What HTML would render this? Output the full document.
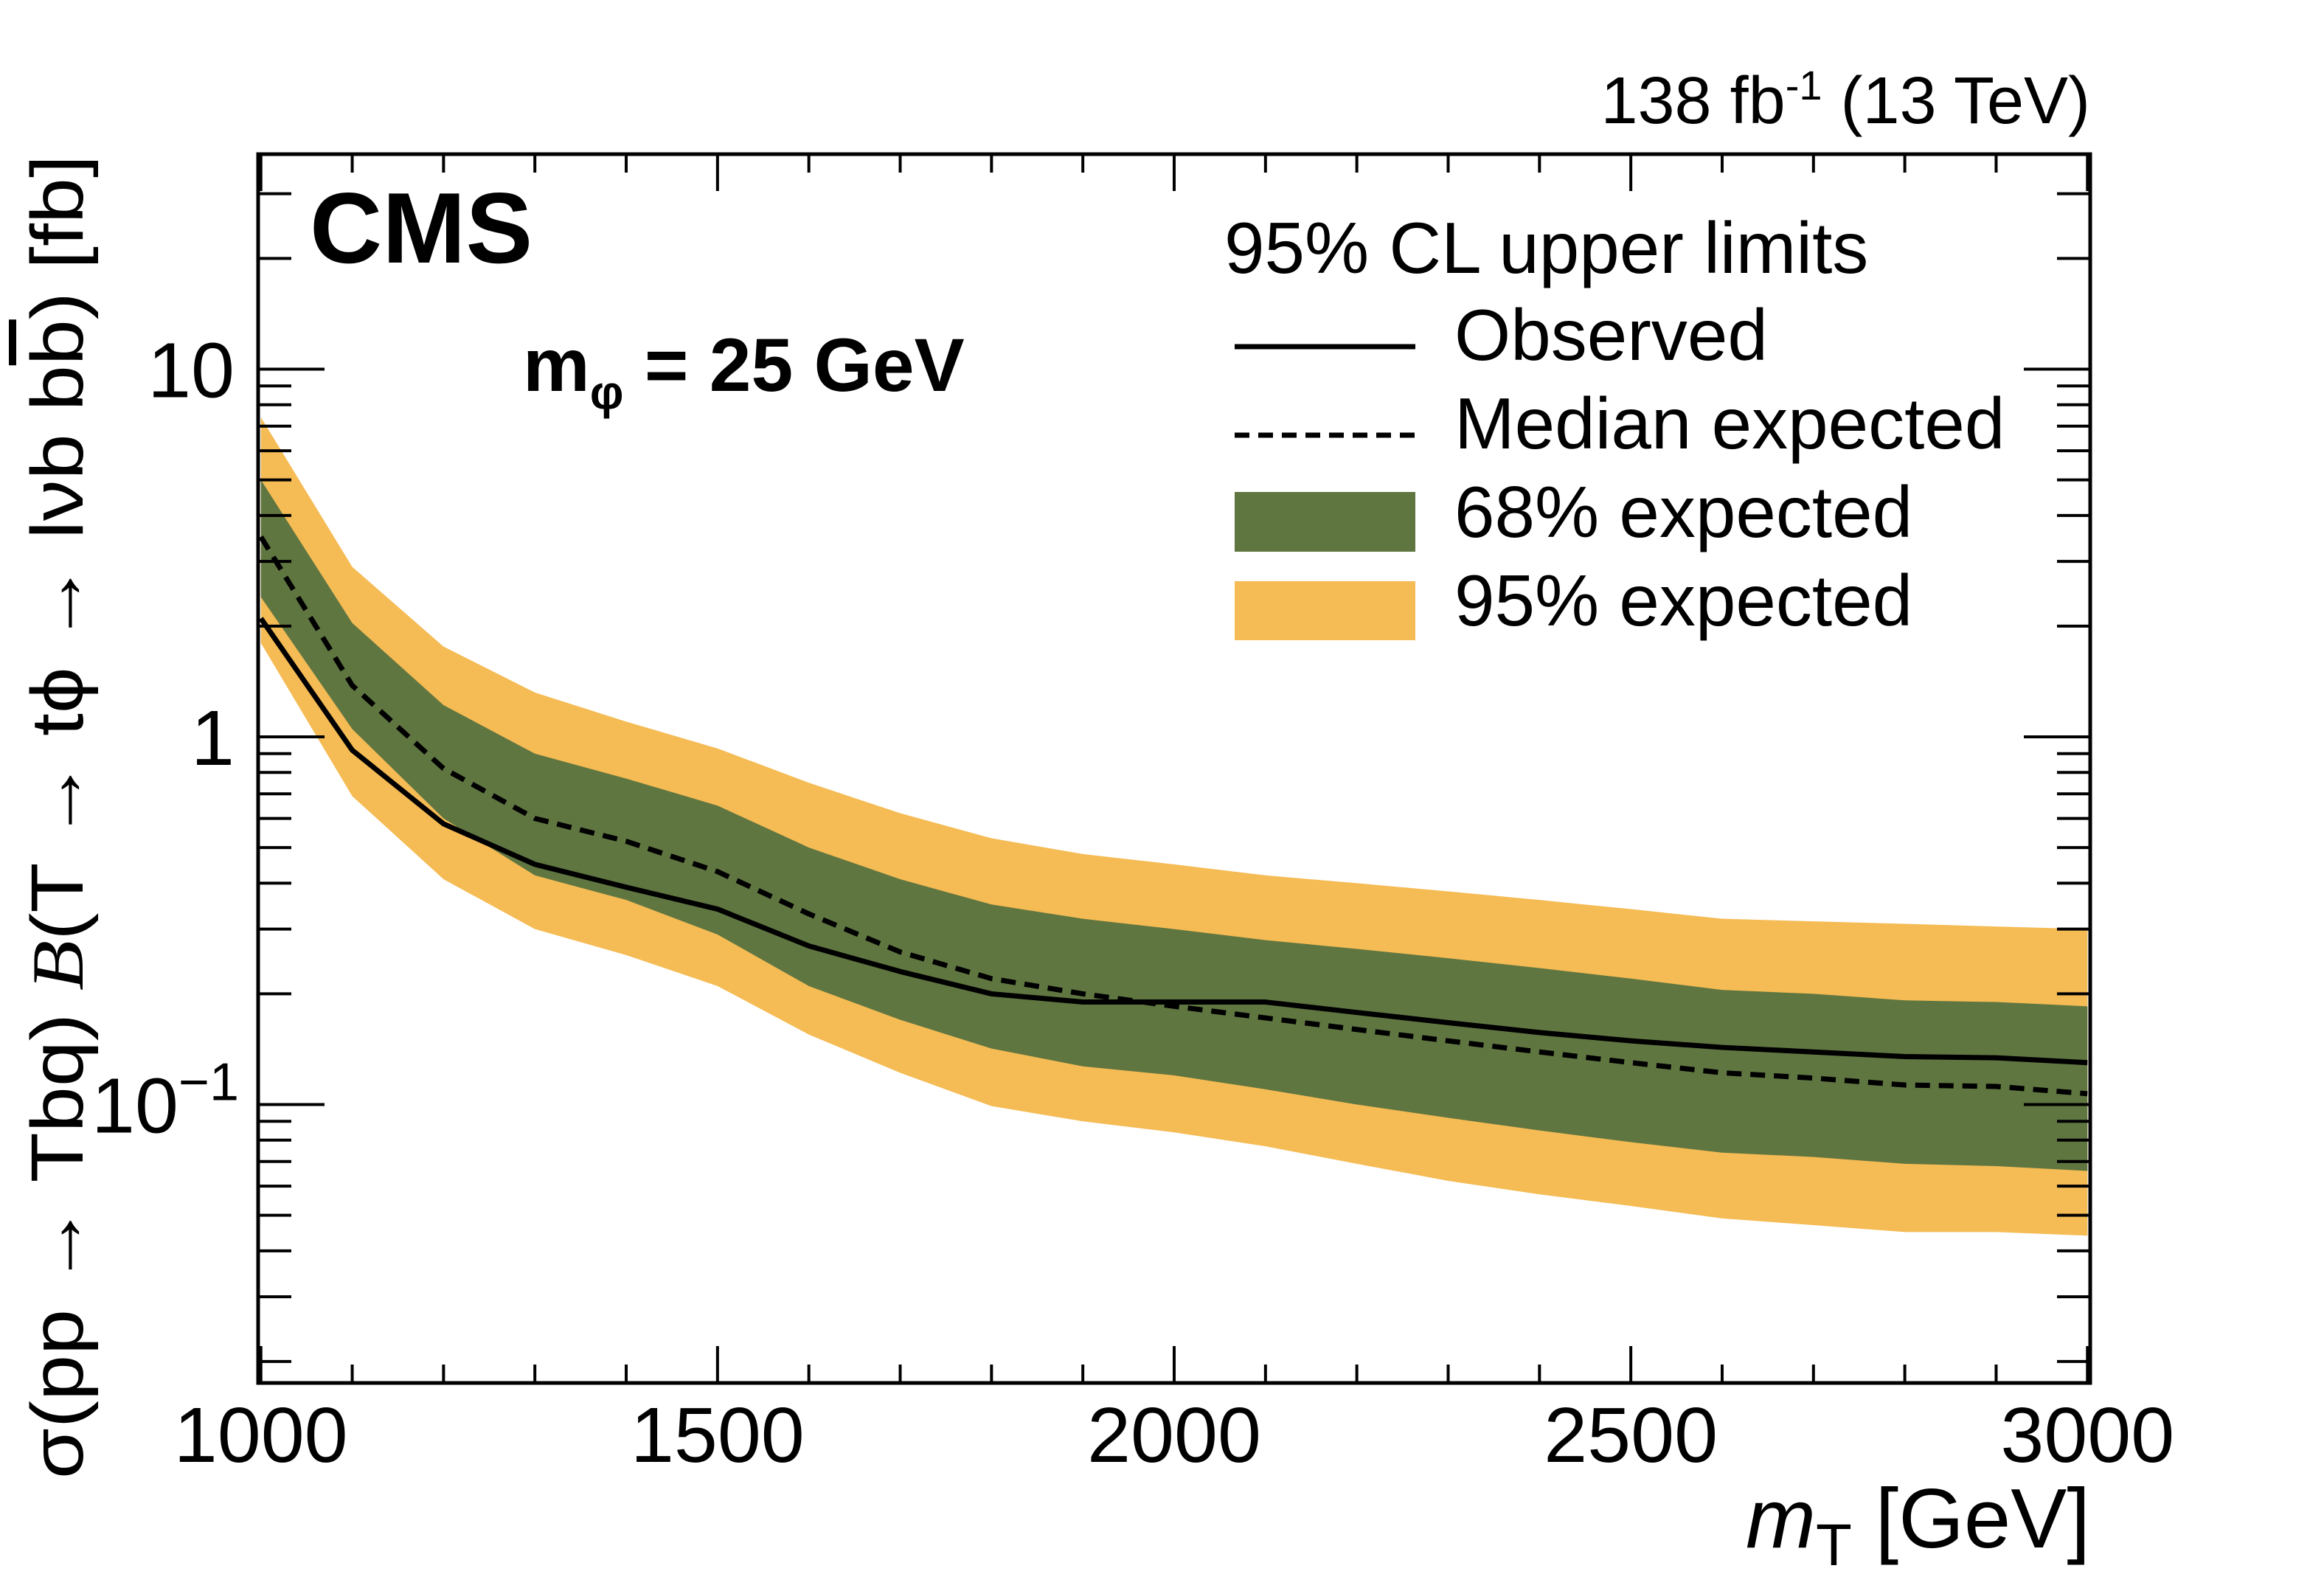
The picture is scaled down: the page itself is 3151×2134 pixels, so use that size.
<!DOCTYPE html>
<html><head><meta charset="utf-8"><style>
html,body{margin:0;padding:0;background:#fff;}
svg{display:block;font-family:"Liberation Sans",sans-serif;}
</style></head><body>
<svg id="chart" width="3151" height="2134" viewBox="0 0 3151 2134" xmlns="http://www.w3.org/2000/svg">
<g id="bands"></g>
<g id="lines"></g>
<g id="axes"></g>
<text x="2834" y="167" font-size="90" text-anchor="end">138 fb<tspan dy="-32" font-size="56">-1</tspan><tspan dy="32"> (13 TeV)</tspan></text>
<text x="420" y="356" font-size="136" font-weight="bold">CMS</text>
<text x="709" y="530" font-size="102" font-weight="bold">m<tspan dy="24" font-size="64">φ</tspan><tspan dy="-24"> = 25 GeV</tspan></text>
<g font-size="98">
<text x="1660" y="370">95% CL upper limits</text>
<line x1="1674" y1="470" x2="1919" y2="470" stroke="#000" stroke-width="7"/>
<text x="1972" y="488">Observed</text>
<line x1="1674" y1="590" x2="1919" y2="590" stroke="#000" stroke-width="7" stroke-dasharray="20,12"/>
<text x="1972" y="608">Median expected</text>
<rect x="1674" y="667" width="245" height="81" fill="#607641"/>
<text x="1972" y="728">68% expected</text>
<rect x="1674" y="788" width="245" height="80" fill="#F5BB54"/>
<text x="1972" y="848">95% expected</text>
</g>
<text x="2834" y="2098" font-size="114" text-anchor="end"><tspan font-style="italic">m</tspan><tspan dy="24" font-size="80">T</tspan><tspan dy="-24"> [GeV]</tspan></text>
<text transform="translate(112,2005) rotate(-90)" font-size="100" textLength="1795" lengthAdjust="spacingAndGlyphs">σ(pp → Tbq) <tspan font-family="Liberation Serif" font-style="italic">B</tspan>(T → tϕ → lνb  b<tspan text-decoration="overline">b</tspan>) [fb]</text>
</svg>
<script>
const masses=[1000,1100,1200,1300,1400,1500,1600,1700,1800,1900,2000,2100,2200,2300,2400,2500,2600,2700,2800,2900,3000];
const observed=[2.1,0.92,0.58,0.45,0.39,0.34,0.27,0.23,0.2,0.19,0.19,0.19,0.178,0.167,0.157,0.149,0.143,0.139,0.135,0.134,0.13];
const expected=[3.5,1.38,0.82,0.6,0.52,0.43,0.33,0.26,0.22,0.2,0.185,0.172,0.16,0.149,0.139,0.13,0.122,0.118,0.113,0.112,0.107];
const up68=[5.0,2.04,1.22,0.9,0.77,0.65,0.5,0.41,0.35,0.32,0.3,0.28,0.265,0.25,0.235,0.22,0.205,0.2,0.192,0.19,0.185];
const lo68=[2.4,1.05,0.6,0.42,0.36,0.29,0.21,0.17,0.142,0.127,0.12,0.11,0.1,0.092,0.085,0.079,0.074,0.072,0.069,0.068,0.066];
const up95=[7.4,2.9,1.76,1.32,1.1,0.93,0.75,0.62,0.53,0.48,0.45,0.42,0.4,0.38,0.36,0.34,0.32,0.315,0.31,0.305,0.3];
const lo95=[1.8,0.69,0.41,0.3,0.255,0.21,0.155,0.122,0.099,0.09,0.084,0.077,0.069,0.062,0.057,0.053,0.049,0.047,0.045,0.045,0.044];
const xTicks=[1000,1500,2000,2500,3000];
const yTickVals=[0.1,1,10];
const yTickLabels=["10","1","10"];

const NS="http://www.w3.org/2000/svg";
const L=350,R=2834,T=209,B=1875;
const X0=997,X1=3003;
function xs(v){return L+(v-X0)/(X1-X0)*(R-L);}
function ys(v){return 999-Math.log10(v)*498.5;}
function mk(tag,attrs,parent){const e=document.createElementNS(NS,tag);for(const k in attrs)e.setAttribute(k,attrs[k]);parent.appendChild(e);return e;}
const bands=document.getElementById('bands'),lines=document.getElementById('lines'),axes=document.getElementById('axes');
function band(up,lo,color,name){
  let pts=masses.map((m,i)=>xs(m)+","+ys(up[i]));
  for(let i=masses.length-1;i>=0;i--)pts.push(xs(masses[i])+","+ys(lo[i]));
  const p=mk('polygon',{points:pts.join(' '),fill:color},bands);
  
  
}
band(up95,lo95,'#F5BB54','band-95');
band(up68,lo68,'#607641','band-68');
function line(vals,name,dash){
  const a={points:masses.map((m,i)=>xs(m)+","+ys(vals[i])).join(' '),fill:'none',stroke:'#000','stroke-width':7,'stroke-linejoin':'round'};
  if(dash)a['stroke-dasharray']='20,12';
  const p=mk('polyline',a,lines);
  
  
}
line(expected,'expected-line',true);
line(observed,'observed-line',false);
const fr=mk('rect',{x:L,y:T,width:R-L,height:B-T,fill:'none',stroke:'#000','stroke-width':5},axes);


for(let v=1000;v<=3000;v+=100){
  const maj=v%500===0, len=maj?50:25, x=xs(v);
  mk('line',{x1:x,y1:B,x2:x,y2:B-len,stroke:'#000','stroke-width':4},axes);
  mk('line',{x1:x,y1:T,x2:x,y2:T+len,stroke:'#000','stroke-width':4},axes);
}
xTicks.forEach(v=>{
  const t=mk('text',{x:xs(v),y:1982,'font-size':106,'text-anchor':'middle'},axes);
  t.textContent=String(v);
  
  
});
for(let d=-2;d<=1;d++){
  for(let k=1;k<=9;k++){
    const v=k*Math.pow(10,d), y=ys(v);
    if(y<T||y>B)continue;
    const len=k===1?90:45;
    mk('line',{x1:L,y1:y,x2:L+len,y2:y,stroke:'#000','stroke-width':4},axes);
    mk('line',{x1:R,y1:y,x2:R-len,y2:y,stroke:'#000','stroke-width':4},axes);
  }
}
yTickVals.forEach((v,i)=>{
  const t=mk('text',{x:318,y:ys(v)+38,'font-size':106,'text-anchor':'end'},axes);
  t.textContent=yTickLabels[i];
  if(v<1){const s=document.createElementNS(NS,'tspan');s.setAttribute('dy','-44');s.setAttribute('font-size','72');s.textContent='−1';t.appendChild(s);t.setAttribute('x','324');}
  
  
});
</script>
</body></html>
